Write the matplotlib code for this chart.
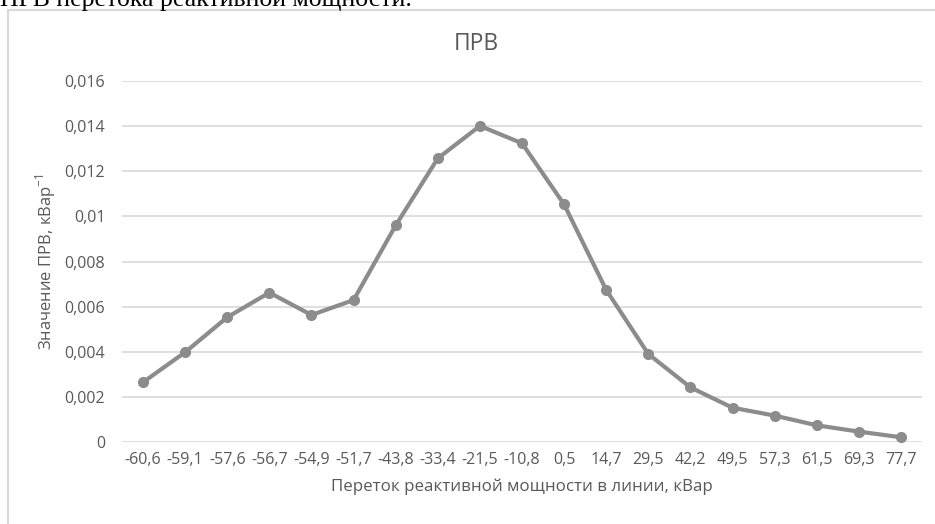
import matplotlib
matplotlib.use("Agg")
import matplotlib.pyplot as plt
from matplotlib.patches import Rectangle

# Переток реактивной мощности, кВар (категории оси X)
categories = ["-60,6", "-59,1", "-57,6", "-56,7", "-54,9", "-51,7", "-43,8",
              "-33,4", "-21,5", "-10,8", "0,5", "14,7", "29,5", "42,2",
              "49,5", "57,3", "61,5", "69,3", "77,7"]
# Значение ПРВ, 1/кВар
prv = [0.00265, 0.00398, 0.00553, 0.00662, 0.00563, 0.00629, 0.0096,
       0.01257, 0.01401, 0.01324, 0.01053, 0.00674, 0.0039, 0.00242,
       0.00152, 0.00117, 0.00074, 0.00046, 0.00021]
y_ticks = [0, 0.002, 0.004, 0.006, 0.008, 0.01, 0.012, 0.014, 0.016]
y_labels = ["0", "0,002", "0,004", "0,006", "0,008", "0,01", "0,012", "0,014", "0,016"]

font = ["Open Sans", "DejaVu Sans"]
plt.rcParams["font.family"] = font
plt.rcParams["mathtext.fontset"] = "custom"
plt.rcParams["mathtext.rm"] = "Open Sans"

txt = "#595959"
grid = "#D9D9D9"
line = "#8C8C8C"
W, H = 935, 524

fig = plt.figure(figsize=(W / 100, H / 100), dpi=100)

# подпись из документа над диаграммой (обрезана сверху)
fig.text(0.0, 1 - 6 / H, "ПРВ перетока реактивной мощности.",
         family=["Liberation Serif", "DejaVu Serif"], fontsize=18.5,
         color="black", va="baseline", ha="left")

# рамка области диаграммы
fig.patches.append(Rectangle((8 / W, -0.1), 1.2, 1 - 10 / H + 0.1,
                             transform=fig.transFigure, fill=False,
                             edgecolor=grid, lw=1.5))

# заголовок по центру всей области диаграммы
fig.text(476 / W, 1 - 50 / H, "ПРВ", fontsize=16.5, color=txt,
         ha="center", va="baseline")

ax = fig.add_axes([122 / W, 1 - 442 / H, 800 / W, 361 / H])
x = list(range(len(categories)))
ax.plot(x, prv, color=line, lw=3, marker="o", markersize=7, zorder=3)

ax.set_xlim(-0.5, len(categories) - 0.5)
ax.set_ylim(0, 0.016)
ax.set_yticks(y_ticks)
ax.set_yticklabels(y_labels)
ax.set_xticks(x)
ax.set_xticklabels(categories)
ax.tick_params(axis="both", length=0, labelsize=11.5, colors=txt)
ax.tick_params(axis="y", pad=12)
ax.tick_params(axis="x", pad=7)
ax.grid(axis="y", color=grid, lw=1.2)
for s in ax.spines.values():
    s.set_visible(False)

ax.set_xlabel("Переток реактивной мощности в линии, кВар", fontsize=12.2,
              color=txt, labelpad=8)
ax.set_ylabel(r"Значение ПРВ, кВар$^{\mathregular{-1}}$", fontsize=12,
              color=txt, labelpad=5)

fig.savefig("out.png", dpi=100)
